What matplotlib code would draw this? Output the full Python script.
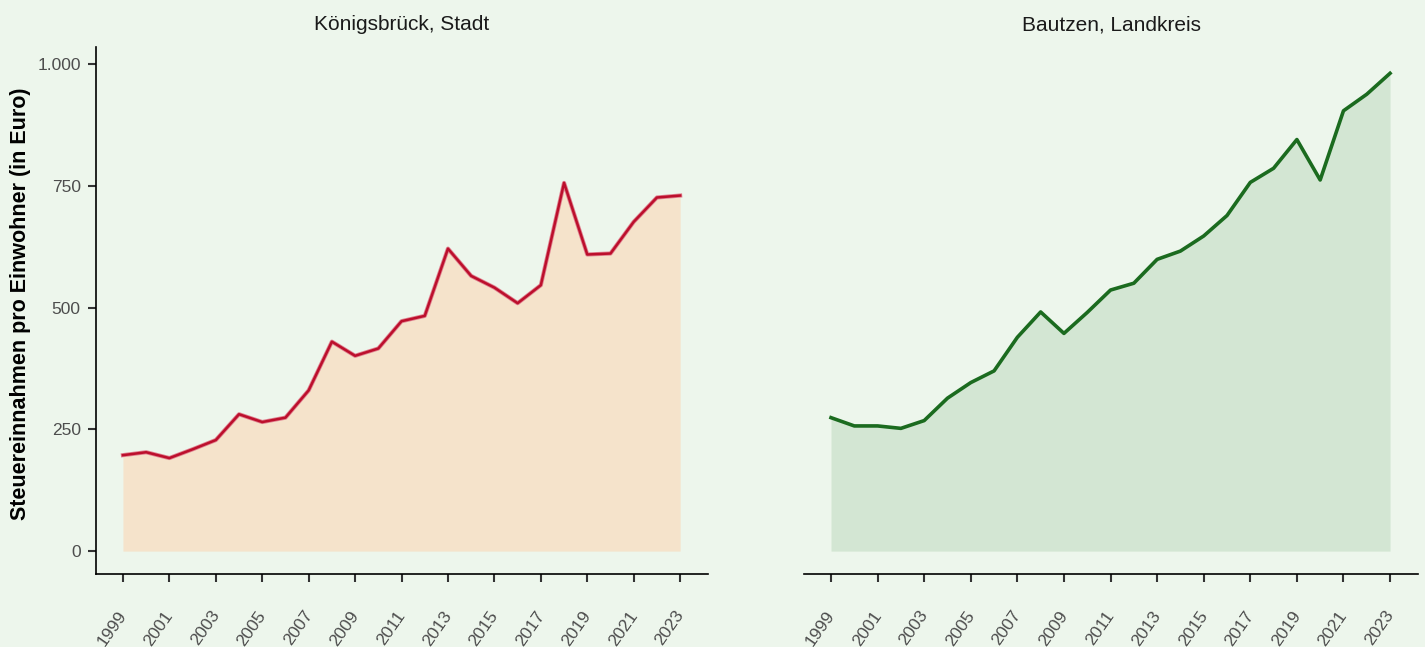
import matplotlib.pyplot as plt
import matplotlib.ticker as mticker
import matplotlib.transforms as mtransforms

# Steuereinnahmen pro Einwohner (Euro)
years = list(range(1999, 2024))
koenigsbrueck = [197, 203, 191, 209, 228, 281, 265, 274, 330, 430, 401, 416, 472,
                 483, 621, 565, 541, 509, 546, 756, 609, 611, 676, 726, 730]
bautzen = [274, 257, 257, 252, 268, 314, 346, 370, 439, 491, 447, 490, 536,
           550, 599, 616, 647, 689, 757, 786, 845, 762, 904, 938, 981]
tick_years = years[::2]

panels = [
    ("Königsbrück, Stadt", koenigsbrueck, "#BC0F2C", "#F5E3CB"),
    ("Bautzen, Landkreis", bautzen, "#1B6B1F", "#D3E6D3"),
]

bg = "#EDF6EC"
plt.rcParams["font.family"] = ["Liberation Sans", "DejaVu Sans"]

fig = plt.figure(figsize=(14.25, 6.47), dpi=100, facecolor=bg)
W, H = 1425, 647
ax_left = fig.add_axes([96 / W, 1 - 574 / H, 612 / W, 527 / H])
ax_right = fig.add_axes([804 / W, 1 - 574 / H, 614 / W, 527 / H])

for ax, (title, vals, lc, fc) in zip([ax_left, ax_right], panels):
    ax.set_facecolor(bg)
    ax.fill_between(years, 0, vals, color=fc, linewidth=0, zorder=1)
    if ax is ax_left:
        ax.plot(years, vals, color="#E0808F", linewidth=3.0, zorder=2)
        ax.plot(years, vals, color=lc, linewidth=1.8, zorder=3)
    else:
        ax.plot(years, vals, color=lc, linewidth=2.6, zorder=3)
    ax.set_xlim(1997.84, 2024.2)
    ax.set_ylim(-47, 1035)
    ax.set_xticks(tick_years)
    ax.set_xticklabels([])
    ax.tick_params(axis="x", length=6, width=1.5, color="#333333")
    # rotated year labels, placed a little left of each tick
    off = mtransforms.ScaledTranslation(-10.5 / 100, -34 / 100, fig.dpi_scale_trans)
    for y in tick_years:
        ax.text(y, 0, str(y), transform=ax.get_xaxis_transform() + off,
                rotation=55, ha="center", va="top", color="#4D4D4D",
                fontsize=12.5, clip_on=False)
    ax.set_title(title, fontsize=15, color="#1A1A1A", pad=12)
    for s in ["top", "right"]:
        ax.spines[s].set_visible(False)
    ax.spines["bottom"].set_linewidth(1.2)

ax_left.set_yticks([0, 250, 500, 750, 1000])
ax_left.yaxis.set_major_formatter(
    mticker.FuncFormatter(lambda v, p: f"{int(v):,}".replace(",", ".")))
ax_left.tick_params(axis="y", length=6, width=1.5, color="#333333",
                    labelcolor="#4D4D4D", labelsize=12.5, pad=5)
ax_left.spines["left"].set_linewidth(1.2)
ax_left.set_ylabel("Steuereinnahmen pro Einwohner (in Euro)", fontsize=15.5,
                   fontweight="bold")
ax_left.yaxis.set_label_coords(-0.106, 0.512)

ax_right.spines["left"].set_visible(False)
ax_right.set_yticks([])

fig.savefig("out.png", dpi=100, facecolor=bg)
